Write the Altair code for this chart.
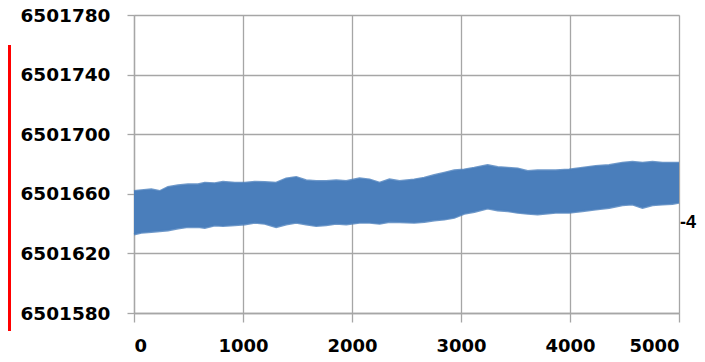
import altair as alt
import pandas as pd

# Envelope of the dense scatter band
x_vals = [0, 67, 159, 236, 312, 404, 496, 588, 649, 741, 817, 925, 1017, 1108, 1200,
          1304, 1396, 1488, 1579, 1671, 1763, 1855, 1947, 2069, 2161, 2253, 2344, 2436,
          2571, 2663, 2755, 2847, 2938, 3030, 3122, 3244, 3336, 3428, 3520, 3612, 3703,
          3869, 3992, 4114, 4236, 4359, 4481, 4573, 4665, 4757, 4848, 4940, 5000]
upper = [6501661.8, 6501662.3, 6501662.9, 6501661.8, 6501664.5, 6501665.6, 6501666.3,
         6501666.3, 6501667.4, 6501667.0, 6501668.0, 6501667.4, 6501667.4, 6501668.0,
         6501667.8, 6501667.4, 6501670.3, 6501671.2, 6501669.0, 6501668.5, 6501668.5,
         6501669.0, 6501668.5, 6501670.3, 6501669.6, 6501667.4, 6501669.6, 6501668.5,
         6501669.6, 6501670.7, 6501672.5, 6501674.1, 6501675.7, 6501676.3, 6501677.4,
         6501679.2, 6501677.9, 6501677.4, 6501677.0, 6501675.2, 6501675.7, 6501675.7,
         6501676.3, 6501677.4, 6501678.6, 6501679.2, 6501680.8, 6501681.4, 6501680.8,
         6501681.4, 6501680.8, 6501680.8, 6501680.8]
lower = [6501632.8, 6501633.9, 6501634.5, 6501635.0, 6501635.5, 6501636.8, 6501637.7,
         6501637.7, 6501637.2, 6501638.8, 6501638.4, 6501639.0, 6501639.5, 6501640.6,
         6501639.9, 6501637.7, 6501639.5, 6501640.6, 6501639.5, 6501638.4, 6501639.0,
         6501639.9, 6501639.5, 6501640.6, 6501640.6, 6501639.9, 6501641.2, 6501641.0,
         6501640.6, 6501641.2, 6501642.2, 6501642.8, 6501643.9, 6501646.6, 6501647.9,
         6501650.2, 6501648.9, 6501648.4, 6501647.3, 6501646.6, 6501646.2, 6501647.3,
         6501647.3, 6501648.4, 6501649.5, 6501650.6, 6501652.4, 6501652.9, 6501650.6,
         6501652.4, 6501652.9, 6501653.3, 6501654.0]

x_ticks = [0, 1000, 2000, 3000, 4000, 5000]
y_ticks = [6501580, 6501620, 6501660, 6501700, 6501740, 6501780]
side_label = "-4"

df = pd.DataFrame({"x": x_vals, "upper": upper, "lower": lower})

BLUE = "#4A7EBB"
FONT = "DejaVu Sans"

xs = alt.Scale(domain=[0, 5000], nice=False, zero=False)
ys = alt.Scale(domain=[6501580, 6501780], nice=False, zero=False)

base = alt.Chart(df)

band = base.mark_area(color=BLUE, opacity=1, interpolate="linear").encode(
    x=alt.X("x:Q", scale=xs, axis=alt.Axis(
        values=x_ticks, title=None, format="d", grid=True, gridColor="#a6a6a6",
        gridWidth=1.3, domainColor="#a6a6a6", domainWidth=1.3, tickColor="#a6a6a6",
        tickWidth=1.3, tickSize=9, labelPadding=15, labelFont=FONT, labelFontSize=18,
        labelFontWeight=800, labelColor="#000000")),
    y=alt.Y("upper:Q", scale=ys, axis=alt.Axis(
        values=y_ticks, title=None, format="d", grid=True, gridColor="#a6a6a6",
        gridWidth=1.3, domainColor="#a6a6a6", domainWidth=1.3, tickColor="#a6a6a6",
        tickWidth=1.3, tickSize=7, labelPadding=17, labelFont=FONT, labelFontSize=18.5,
        labelFontWeight=800, labelColor="#000000")),
    y2="lower:Q",
)

edge_top = base.mark_line(color=BLUE, strokeWidth=2.2, opacity=0.8).encode(
    x=alt.X("x:Q", scale=xs), y=alt.Y("upper:Q", scale=ys))
edge_bot = base.mark_line(color=BLUE, strokeWidth=2.2, opacity=0.8).encode(
    x=alt.X("x:Q", scale=xs), y=alt.Y("lower:Q", scale=ys))

label = alt.Chart(pd.DataFrame({"t": [side_label]})).mark_text(
    align="left", baseline="middle", font="Liberation Sans", fontSize=18, fontWeight="bold",
    color="#000000").encode(x=alt.value(546), y=alt.value(208), text="t:N")

red = alt.Chart(pd.DataFrame({"t": [0]})).mark_rule(
    color="#ff0000", strokeWidth=4).encode(
    x=alt.value(-125), y=alt.value(30), y2=alt.value(316))

chart = alt.layer(band, edge_top, edge_bot, label, red).properties(
    width=545, height=298,
    padding={"left": 126, "top": 7, "right": 18, "bottom": 41},
    autosize=alt.AutoSizeParams(type="none"),
).configure_view(stroke=None).configure(background="#ffffff")

chart.save("out.html", embed_options={"renderer": "svg", "actions": False})
